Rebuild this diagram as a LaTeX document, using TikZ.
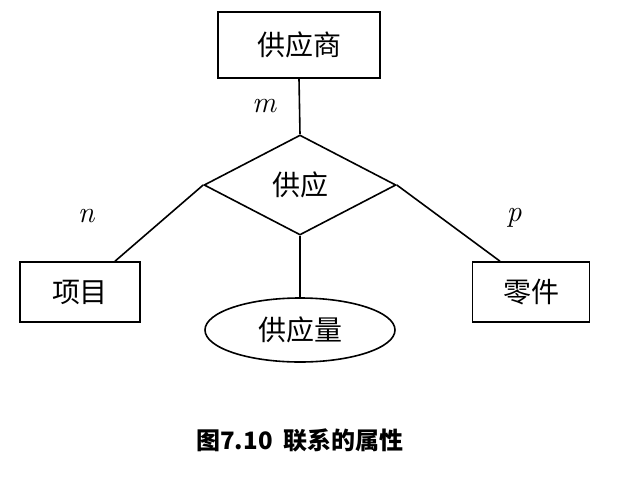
\documentclass[tikz,border=0pt]{standalone}
\usepackage{fontspec}
\newfontfamily\cjk{Noto Sans CJK SC}
\usetikzlibrary{shapes.geometric,calc}
\begin{document}
\begin{tikzpicture}[x=1pt,y=-1pt,
  ent/.style={draw,line width=1.6pt,minimum width=#1,minimum height=60pt,inner sep=0pt,font=\cjk\fontsize{28}{30}\selectfont},
  ln/.style={line width=1.6pt},
  lab/.style={font=\itshape\fontsize{30}{32}\selectfont}]
\useasboundingbox (0,0) rectangle (619,491);
\node[ent=162pt,minimum height=66pt] (sup) at (299,45) {供应商};
\node[draw,line width=1.6pt,diamond,minimum width=192pt,minimum height=100pt,inner sep=0pt,font=\cjk\fontsize{28}{30}\selectfont] (rel) at (300,185) {供应};
\node[ent=120pt] (xm) at (80,292) {项目};
\node[ent=117pt] (lj) at (531,292) {零件};
\node[draw,ellipse,line width=1.6pt,minimum width=190pt,minimum height=64pt,inner sep=0pt,font=\cjk\fontsize{28}{30}\selectfont] (qty) at (300,330) {供应量};
\draw[ln] (sup.south) -- (rel.north);
\draw[ln] (rel.west) -- ($(xm.north)+(35,0)$);
\draw[ln] (rel.east) -- ($(lj.north)+(-31,0)$);
\draw[ln] (rel.south) -- (qty.north);
\node[lab] (m) at (264,106) {m};
\node[lab] (n) at (86,216) {n};
\node[lab] (p) at (514,218) {p};
\node[font=\cjk\bfseries\fontsize{24}{26}\selectfont] (cap) at (300,440) {图7.10\ \ 联系的属性};
\end{tikzpicture}
\end{document}
